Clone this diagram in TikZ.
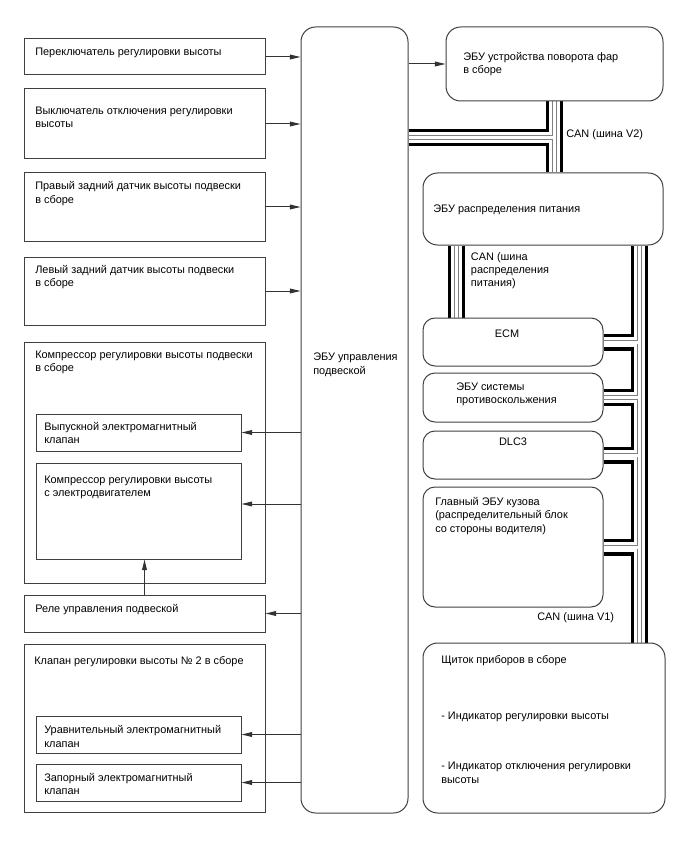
\documentclass[tikz,border=0pt]{standalone}
\usepackage{fontspec}
\setmainfont{Liberation Sans}
\usetikzlibrary{arrows.meta, positioning, calc, fit, backgrounds}
\newcommand\fs{\fontsize{8.2pt}{10pt}\selectfont}

\begin{document}
\begin{tikzpicture}[
    x=0.75pt, y=-0.75pt,
    box/.style={draw=black!75, line width=0.75pt, inner sep=0pt},
    bigecu/.style={box, rounded corners=11pt},
    smallecu/.style={box, rounded corners=9pt},
    txt/.style={anchor=north west, inner sep=0pt, align=left, font=\fs},
    sig/.style={-{Triangle[length=8pt, width=3.6pt]}, draw=black!80, line width=0.75pt}
]
\useasboundingbox (0,0) rectangle (688,852);

% left column
\node[box, fit={(24,39) (265,75)}] (sw) {};
\node[box, fit={(24,89) (265,159)}] (off) {};
\node[box, fit={(24,173) (265,241)}] (rr) {};
\node[box, fit={(24,257) (265,325)}] (lr) {};
\node[box, fit={(24,342) (265,583)}] (comp) {};
\node[box, fit={(36,414) (241,451)}] (exh) {};
\node[box, fit={(36,463) (241,559)}] (mot) {};
\node[box, fit={(24,595) (265,632)}] (rel) {};
\node[box, fit={(24,644) (265,812)}] (vlv) {};
\node[box, fit={(36,716) (241,753)}] (lev) {};
\node[box, fit={(36,764) (241,801)}] (shut) {};

\node[txt] (swt) at (35,48) {Переключатель регулировки высоты};
\node[txt] (offt) at (35,106.5) {Выключатель отключения регулировки\\высоты};
\node[txt] (rrt) at (35,181.5) {Правый задний датчик высоты подвески\\в сборе};
\node[txt] (lrt) at (35,265) {Левый задний датчик высоты подвески\\в сборе};
\node[txt] (compt) at (35,350.5) {Компрессор регулировки высоты подвески\\в сборе};
\node[txt] (exht) at (44,422) {Выпускной электромагнитный\\клапан};
\node[txt] (mott) at (44,475.5) {Компрессор регулировки высоты\\с электродвигателем};
\node[txt] (relt) at (35,604) {Реле управления подвеской};
\node[txt] (vlvt) at (34,656) {Клапан регулировки высоты № 2 в сборе};
\node[txt] (levt) at (44,725.5) {Уравнительный электромагнитный\\клапан};
\node[txt] (shutt) at (44,773) {Запорный электромагнитный\\клапан};

% suspension ECU
\node[bigecu, fit={(301,27) (408,813)}] (ecu) {};
\node[txt] (ecut) at (313,353) {ЭБУ управления\\подвеской};

% right column
\node[bigecu, fit={(446,27) (663,101)}] (hl) {};
\node[bigecu, fit={(423,173) (663,245)}] (pd) {};
\node[smallecu, fit={(423,318) (603,366)}] (ecm) {};
\node[smallecu, fit={(423,373) (603,422)}] (vsc) {};
\node[smallecu, fit={(423,431) (603,479)}] (dlc) {};
\node[smallecu, fit={(423,487) (603,607)}] (bcm) {};
\node[bigecu, fit={(423,643) (665,813)}] (dash) {};

\node[txt] (hlt) at (463,52) {ЭБУ устройства поворота фар\\в сборе};
\node[txt] (pdt) at (433,205) {ЭБУ распределения питания};
\node[txt, anchor=north] (ecmt) at (507,330) {ECM};
\node[txt] (vsct) at (456,382.5) {ЭБУ системы\\противоскольжения};
\node[txt, anchor=north] (dlct) at (513,438) {DLC3};
\node[txt] (bcmt) at (435,497) {Главный ЭБУ кузова\\(распределительный блок\\со стороны водителя)};
\node[txt] (dasht) at (441,655) {Щиток приборов в сборе};
\node[txt] (ind1) at (441,712) {- Индикатор регулировки высоты};
\node[txt] (ind2) at (441,762) {- Индикатор отключения регулировки\\высоты};

% bus labels
\node[txt] (canv2) at (566,129) {CAN (шина V2)};
\node[txt] (canpd) at (470.7,252) {CAN (шина\\распределения\\питания)};
\node[txt] (canv1) at (537,612.7) {CAN (шина V1)};

% signal lines
\coordinate (motin) at ($(mot.east)+(0,-7)$);
\draw[sig] (sw.east) -- (sw.east -| ecu.west);
\draw[sig] (off.east) -- (off.east -| ecu.west);
\draw[sig] (rr.east) -- (rr.east -| ecu.west);
\draw[sig] (lr.east) -- (lr.east -| ecu.west);
\draw[sig] (exh.east -| ecu.west) -- (exh.east);
\draw[sig] (motin -| ecu.west) -- (motin);
\draw[sig] (rel.east -| ecu.west) -- (rel.east);
\draw[sig] (lev.east -| ecu.west) -- (lev.east);
\draw[sig] (shut.east -| ecu.west) -- (shut.east);
\draw[sig] (hl.west -| ecu.east) -- (hl.west);
\draw[sig] (rel.north) -- (rel.north |- mot.south);

% CAN buses
\coordinate (v2j) at ($(hl.south)+(0,36)$);
\coordinate (pdb) at ($(pd.south west)+(34,0)$);
\coordinate (v1) at ($(pd.south east)+(-24,0)$);
\begin{scope}[on background layer]
\foreach \w/\c in {12.75pt/black, 7.8pt/white, 3.45pt/black!50, 2.25pt/white}
  \draw[line width=\w, draw=\c]
    (hl.south) -- (hl.south |- pd.north)
    (v2j) -- (v2j -| ecu.east)
    (pdb) -- (pdb |- ecm.north)
    (v1) -- (v1 |- dash.north)
    (ecm.east) -- (ecm.east -| v1)
    (vsc.east) -- (vsc.east -| v1)
    (dlc.east) -- (dlc.east -| v1)
    (bcm.east) -- (bcm.east -| v1);
\end{scope}
\end{tikzpicture}
\end{document}
